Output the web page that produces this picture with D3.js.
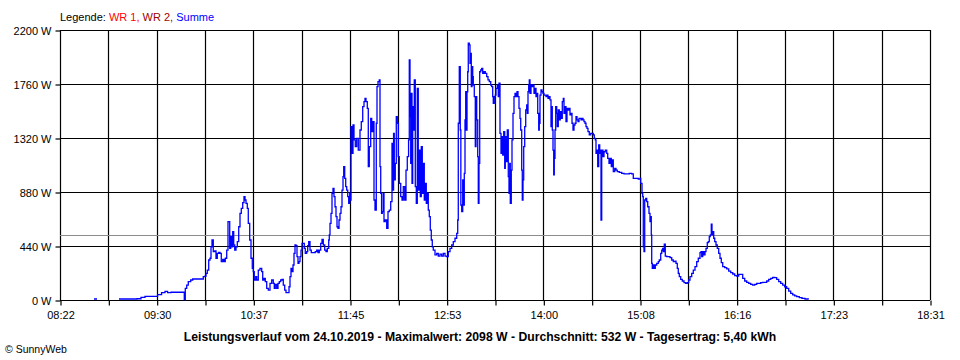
<!DOCTYPE html>
<html><head><meta charset="utf-8">
<script src="https://cdn.jsdelivr.net/npm/d3@7"></script>
<style>
html,body{margin:0;padding:0;background:#fff;}
svg{display:block;}
text{font-family:"Liberation Sans",Arial,sans-serif;}
</style></head>
<body>
<svg id="chart" width="960" height="360"></svg>
<script>
// ---- data ----
// time in minutes after midnight, power in W (Summe)
const summe = [
[502.0,0],[525.1,0],[525.8,8],[527.9,8],[528.6,0],[542.6,0],[543.3,8],[552.4,8],[555.9,10],[558.7,22],
[561.5,30],[569.2,30],[570.3,43],[573.1,60],[575.5,71],[577.3,60],[579.7,63],[588.5,63],[589.0,3],[589.7,95],
[590.7,122],[591.8,150],[593.5,163],[594.9,171],[601.2,171],[602.3,190],[603.5,195],[604.2,217],[605.1,244],[606.1,326],
[607.0,340],[607.7,434],[608.4,489],[609.3,394],[610.3,401],[611.2,340],[612.1,380],[613.1,387],[614.0,380],[614.9,312],
[615.9,331],[616.8,312],[617.7,340],[618.7,407],[619.6,638],[620.3,638],[620.8,421],[621.5,516],[622.2,434],[622.9,557],
[623.6,448],[624.3,407],[625.2,434],[626.1,475],[627.1,597],[628.0,706],[628.9,747],[629.9,793],[630.8,842],[631.5,815],
[632.2,788],[633.1,747],[633.8,625],[634.8,489],[635.7,340],[636.6,258],[637.3,231],[638.0,163],[639.0,190],[639.7,163],
[640.8,244],[642.0,258],[643.2,231],[643.9,163],[644.8,177],[645.7,150],[646.7,95],[647.8,81],[649.0,136],[650.2,163],
[651.3,136],[652.0,95],[652.7,128],[653.7,95],[654.6,136],[655.5,150],[656.5,163],[657.4,168],[658.3,122],[659.3,81],
[660.2,60],[661.4,60],[662.3,108],[663.0,190],[663.7,258],[664.4,231],[665.1,285],[665.8,380],[666.5,448],[667.2,443],
[667.9,353],[668.6,299],[669.3,312],[670.0,353],[670.7,407],[671.4,462],[672.3,462],[673.0,421],[673.7,380],[674.7,394],
[675.4,443],[676.1,475],[677.0,407],[677.9,386],[679.3,386],[680.7,394],[681.7,407],[682.6,386],[683.5,407],[684.5,462],
[685.4,494],[686.3,448],[687.3,407],[688.2,394],[689.1,421],[690.1,489],[690.5,530],[691.0,625],[691.7,706],[692.4,869],
[693.1,910],[693.8,842],[694.5,760],[695.2,679],[695.9,597],[696.6,584],[697.3,652],[698.0,706],[698.7,760],[699.4,896],
[700.1,1005],[700.6,1086],[701.3,991],[702.0,924],[702.7,896],[703.4,842],[704.1,788],[704.8,869],[705.2,815],[705.7,1412],
[706.4,1195],[707.1,1426],[707.8,1304],[708.7,1249],[709.7,1317],[710.8,1222],[712.0,1385],[712.9,1453],[713.9,1575],[714.8,1616],
[715.5,1643],[716.2,1616],[717.1,1562],[717.8,1086],[718.5,1249],[719.5,1480],[720.2,1372],[720.9,1453],[721.8,815],[722.5,733],
[723.4,1440],[723.9,1738],[724.6,1779],[725.5,1793],[726.0,1086],[726.5,869],[727.1,706],[727.6,720],[728.3,869],[728.8,638],
[729.7,652],[730.7,584],[731.6,720],[732.5,733],[733.5,801],[734.4,1277],[734.9,896],[735.5,1358],[736.0,978],[736.7,1114],
[737.4,1494],[738.1,1440],[738.8,1168],[739.5,951],[740.5,842],[741.4,815],[742.3,924],[743.3,815],[744.2,1059],[745.1,1168],
[746.0,1304],[746.5,1956],[747.0,1494],[747.5,1114],[747.9,1684],[748.4,951],[748.9,1575],[749.3,1385],[750.0,1793],[750.7,924],
[751.4,788],[752.1,1725],[752.8,896],[753.5,1222],[754.2,842],[754.9,1249],[755.6,869],[756.3,1114],[757.0,815],[757.7,951],
[758.4,788],[759.1,869],[759.8,733],[760.5,679],[761.2,570],[761.9,489],[762.6,434],[763.3,407],[764.5,367],[765.7,380],
[766.8,358],[768.0,374],[769.2,358],[770.3,380],[771.5,358],[772.7,353],[773.8,394],[775.0,421],[776.2,448],[777.3,475],
[778.5,503],[779.7,543],[780.4,652],[780.8,1440],[781.5,1901],[782.2,1385],[782.6,774],[783.2,720],[783.9,978],[784.6,774],
[785.0,1032],[785.5,1467],[786.0,1697],[786.4,1385],[786.9,1697],[787.4,1860],[787.8,2092],[788.5,2078],[789.0,1928],[789.5,2010],
[789.9,1738],[790.4,1901],[790.9,1820],[791.3,1752],[792.0,1657],[792.7,1249],[793.2,1657],[793.7,1467],[794.4,1168],[794.8,788],
[795.3,1114],[795.8,1860],[796.5,1874],[797.2,1888],[797.9,1847],[798.8,1860],[799.7,1847],[800.7,1820],[801.6,1793],[802.5,1779],
[803.5,1752],[804.2,1738],[804.9,1657],[805.3,1602],[806.0,1657],[806.7,1670],[807.2,1725],[808.1,1752],[808.8,1657],[809.3,1766],
[810.0,1358],[810.7,1195],[811.4,1331],[811.9,1181],[812.6,1372],[813.3,1073],[813.7,1331],[814.4,1127],[815.1,1385],[815.8,1005],
[816.3,869],[816.8,1114],[817.2,788],[817.9,1059],[818.4,1304],[819.1,1521],[819.8,1657],[820.5,1684],[821.2,1657],[821.9,1697],
[822.6,1657],[823.3,1562],[824.0,1480],[824.5,1385],[825.2,1059],[825.6,815],[826.1,978],[826.6,1249],[827.3,1412],[828.0,1548],
[828.7,1589],[829.1,1521],[829.6,1697],[830.1,1752],[830.5,1793],[831.0,1684],[831.7,1752],[832.4,1738],[833.1,1752],[833.8,1684],
[834.5,1725],[835.2,1657],[835.9,1684],[836.4,1521],[837.1,1385],[837.5,1440],[838.0,1670],[838.7,1711],[839.4,1697],[840.1,1684],
[840.8,1670],[841.5,1670],[842.2,1657],[842.9,1670],[843.6,1643],[844.3,1657],[845.0,1630],[845.7,1412],[846.2,1575],[846.6,1385],
[847.1,1222],[847.6,1019],[848.0,1154],[848.5,1385],[849.0,1575],[849.7,1521],[850.1,1412],[850.8,1548],[851.5,1467],[852.2,1535],
[852.9,1480],[853.6,1616],[854.3,1643],[854.8,1521],[855.5,1575],[856.2,1453],[856.9,1562],[857.6,1548],[858.3,1562],[859.0,1508],
[859.7,1521],[860.4,1440],[861.1,1385],[861.8,1426],[862.5,1440],[863.2,1494],[863.9,1467],[864.6,1453],[865.3,1480],[866.7,1467],
[867.4,1480],[868.1,1467],[868.8,1453],[869.5,1440],[870.2,1412],[870.9,1399],[871.6,1372],[872.5,1345],[873.5,1358],[875.3,1345],
[876.0,1317],[876.7,1304],[877.2,1195],[877.9,1222],[878.4,1086],[879.1,1263],[879.8,1195],[880.2,1222],[880.7,652],[881.2,1222],
[882.1,1168],[882.8,1208],[883.7,1222],[884.7,1195],[885.4,1154],[886.3,1114],[887.0,1154],[887.9,1086],[888.6,1141],[889.3,1046],
[890.3,1073],[891.2,1059],[892.1,1046],[893.5,1040],[895.2,1032],[896.8,1027],[898.7,1027],[900.5,1032],[902.2,1027],[903.3,991],
[905.2,991],[906.8,985],[908.0,991],[908.5,951],[909.4,869],[909.9,842],[910.3,434],[910.8,394],[911.3,815],[912.0,828],
[912.7,801],[913.4,760],[914.3,706],[915.0,638],[915.5,679],[915.9,530],[916.2,299],[916.6,258],[917.3,285],[918.0,258],
[918.7,285],[919.7,299],[920.8,312],[921.5,326],[922.5,380],[923.2,407],[923.9,421],[924.3,394],[925.0,456],[925.7,358],
[926.7,353],[927.8,353],[929.0,345],[930.2,326],[931.3,312],[932.5,316],[933.2,299],[934.1,258],[934.8,217],[935.5,190],
[936.5,168],[937.6,155],[938.8,141],[940.0,136],[941.1,141],[942.1,163],[943.0,190],[944.2,217],[945.3,244],[946.5,272],
[947.7,312],[948.8,340],[950.0,386],[950.7,394],[951.2,353],[951.9,394],[952.6,367],[953.5,394],[954.2,421],[955.1,467],
[955.8,475],[956.5,516],[957.2,530],[957.9,619],[958.4,530],[958.9,557],[959.6,503],[960.3,475],[961.2,448],[962.1,421],
[963.1,380],[964.0,340],[964.9,304],[965.9,272],[967.3,263],[968.7,253],[970.1,236],[971.5,223],[972.9,212],[974.3,198],
[975.7,195],[977.1,209],[978.5,209],[979.9,177],[981.3,155],[982.7,144],[984.1,136],[985.5,128],[986.9,122],[988.3,128],
[989.7,136],[991.1,136],[992.5,141],[993.9,144],[995.3,144],[996.7,155],[998.1,168],[999.5,177],[1000.9,185],[1002.3,182],
[1003.7,168],[1005.1,150],[1006.5,136],[1007.9,122],[1009.3,108],[1010.7,95],[1012.1,73],[1013.5,54],[1014.9,41],[1016.3,33],
[1017.7,27],[1019.5,19],[1021.4,14],[1023.5,8],[1025.8,5],[1026.3,0]
];
const average = 532;               // W, "Durchschnitt"
const xTickLabels = ["08:22","09:30","10:37","11:45","12:53","14:00","15:08","16:16","17:23","18:31"];
const yTicks = [0, 440, 880, 1320, 1760, 2200];
const timeStart = 502, timeEnd = 1111; // 08:22 .. 18:31 in minutes
const legendParts = [["Legende: ","#000000"],["WR 1,","#ff0000"],[" WR 2,","#a00000"],[" Summe","#0000ff"]];
const titleText = "Leistungsverlauf vom 24.10.2019 - Maximalwert: 2098 W - Durchschnitt: 532 W - Tagesertrag: 5,40 kWh";
const copyright = "© SunnyWeb";

// ---- drawing ----
const svg = d3.select("#chart");
const L = 60, R = 930, T = 30, B = 300;
const x = d3.scaleLinear().domain([timeStart, timeEnd]).range([L, R]);
const y = d3.scaleLinear().domain([0, 2200]).range([B, T]);

const nMinor = (xTickLabels.length - 1) * 2;
const gridTimes = d3.range(nMinor + 1).map(i => timeStart + i * (timeEnd - timeStart) / nMinor);

// legend
const leg = svg.append("text").attr("x", L).attr("y", 21).attr("font-size", "11px");
legendParts.forEach(p => leg.append("tspan").attr("fill", p[1]).text(p[0]));

// series (drawn under the grid, zero values are not drawn)
const path = d3.line().defined(d => d[1] > 0).x(d => x(d[0])).y(d => y(d[1])).curve(d3.curveStepAfter);
const series = svg.append("g");

// grid
svg.append("g").selectAll("line.v").data(gridTimes).join("line")
  .attr("x1", d => Math.round(x(d)) + 0.5).attr("x2", d => Math.round(x(d)) + 0.5)
  .attr("y1", T).attr("y2", B).attr("stroke", "#000").attr("stroke-width", 1.2);
svg.append("g").selectAll("line.h").data(yTicks).join("line")
  .attr("x1", L).attr("x2", R).attr("y1", d => Math.round(y(d)) + 0.5).attr("y2", d => Math.round(y(d)) + 0.5)
  .attr("stroke", "#000").attr("stroke-width", 1.2);

// average line
svg.append("line").attr("x1", L).attr("x2", R)
  .attr("y1", Math.round(y(average)) + 0.5).attr("y2", Math.round(y(average)) + 0.5)
  .attr("stroke", "#8c8c8c").attr("stroke-width", 1.1);

series.append("path").datum(summe).attr("d", path)
  .attr("fill", "none").attr("stroke", "#0000ff").attr("stroke-width", 1.3).attr("stroke-linejoin", "miter");
series.raise();

// axes
const xAxis = d3.axisBottom(x).tickValues(gridTimes).tickSize(5).tickPadding(6)
  .tickFormat((d, i) => i % 2 === 0 ? xTickLabels[i / 2] : "");
const gx = svg.append("g").attr("transform", `translate(0.5,${B + 0.5})`).call(xAxis);
gx.select(".domain").remove();
gx.selectAll(".tick line").attr("stroke", "#000").attr("stroke-width", 1.2);
gx.selectAll(".tick text").attr("font-family", "Liberation Sans, Arial, sans-serif").attr("font-size", "11px").attr("fill", "#000");

const yAxis = d3.axisLeft(y).tickValues(yTicks).tickSize(5).tickPadding(4).tickFormat(d => d + " W");
const gy = svg.append("g").attr("transform", `translate(${L + 0.5},0.5)`).call(yAxis);
gy.select(".domain").remove();
gy.selectAll(".tick line").attr("stroke", "#000").attr("stroke-width", 1.2);
gy.selectAll(".tick text").attr("font-family", "Liberation Sans, Arial, sans-serif").attr("font-size", "11px").attr("fill", "#000");

// title & copyright
svg.append("text").attr("x", 480).attr("y", 341).attr("text-anchor", "middle")
  .attr("font-size", "12.2px").attr("font-weight", "bold").attr("fill", "#000").text(titleText);
svg.append("text").attr("x", 5).attr("y", 353).attr("font-size", "10.5px").attr("fill", "#000").text(copyright);
</script>
</body></html>
